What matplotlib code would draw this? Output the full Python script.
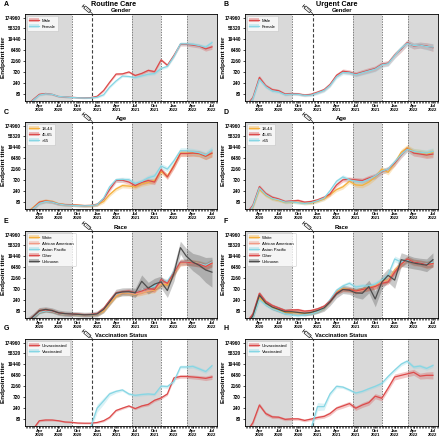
import numpy as np
import pandas as pd
import matplotlib
matplotlib.use('Agg')
import matplotlib.pyplot as plt
import matplotlib.dates as mdates
from matplotlib.patches import Patch, Polygon
from matplotlib.lines import Line2D

plt.rcParams['font.family'] = ['Liberation Sans', 'DejaVu Sans']

# ---------------- data ----------------
months = pd.date_range('2020-02-01', '2022-07-01', freq='MS')       # 30 points
vax_months = pd.date_range('2020-12-01', '2022-07-01', freq='MS')   # 20 points

ytick_values = [80, 240, 720, 2160, 6480, 19440, 58320, 174960]
shade_spans = [('2020-01-15', '2020-09-02'), ('2021-06-18', '2021-11-02'), ('2022-03-05', '2022-08-15')]
boundary_dates = ['2020-09-02', '2021-06-18', '2021-11-02', '2022-03-05']
vaccine_date = '2020-12-09'

# Panel A: routine care, gender
a_male = [25, 45, 78, 85, 78, 63, 60, 58, 56, 55, 56, 64, 115, 260, 600, 610, 740, 520, 640, 870, 760, 2500, 1450, 3900, 12000, 12000, 11000, 10000, 7500, 9200]
a_female = [25, 42, 72, 82, 78, 63, 60, 57, 55, 54, 54, 58, 75, 160, 300, 490, 470, 420, 500, 590, 630, 1050, 1300, 3500, 12500, 12500, 12000, 10500, 9000, 14000]
# Panel B: urgent care, gender
b_male = [25, 56, 430, 186, 125, 113, 80, 85, 82, 73, 78, 97, 125, 210, 530, 800, 730, 600, 730, 880, 1050, 1600, 1800, 4000, 7300, 14000, 10000, 11000, 10000, 8500]
b_female = [22, 50, 350, 170, 110, 100, 75, 80, 78, 70, 72, 90, 115, 190, 450, 700, 680, 560, 680, 820, 980, 1500, 1700, 3800, 8000, 13000, 10500, 11000, 9500, 9000]
# Panel C: routine care, age
c_18_44 = [25, 45, 80, 92, 85, 68, 62, 60, 58, 56, 56, 62, 85, 170, 300, 420, 400, 370, 500, 580, 700, 1700, 1100, 3200, 11000, 11000, 11000, 10000, 8000, 10500]
c_45_65 = [25, 42, 78, 90, 82, 66, 62, 60, 58, 56, 57, 64, 110, 280, 700, 720, 600, 420, 580, 700, 600, 2100, 1000, 3000, 10500, 10500, 11000, 10500, 8000, 11000]
c_65 = [25, 40, 70, 85, 80, 66, 60, 58, 56, 55, 56, 62, 120, 370, 760, 780, 760, 520, 640, 920, 1100, 3000, 2200, 5000, 14000, 14000, 13000, 11500, 9000, 15000]
# Panel D: urgent care, age
d_18_44 = [22, 50, 290, 160, 110, 95, 78, 80, 78, 70, 72, 88, 110, 170, 280, 370, 650, 450, 430, 600, 1000, 2200, 1600, 4000, 12000, 19000, 13000, 12000, 10000, 12000]
d_45_65 = [25, 58, 380, 190, 130, 110, 85, 90, 95, 80, 85, 100, 130, 180, 450, 750, 800, 750, 700, 900, 1100, 1700, 2200, 4000, 9000, 17000, 11000, 10000, 9000, 10000]
d_65 = [22, 52, 330, 170, 115, 100, 80, 82, 75, 70, 75, 92, 120, 250, 650, 1000, 750, 650, 600, 800, 1100, 1800, 2200, 4500, 9500, 16000, 13000, 12000, 11000, 13000]
# Panel E: routine care, race
e_white = [25, 42, 75, 88, 80, 65, 60, 58, 56, 55, 55, 58, 80, 170, 350, 500, 480, 430, 500, 600, 650, 1200, 1100, 3500, 10000, 11000, 10500, 9500, 7500, 10000]
e_african_american = [25, 45, 90, 95, 85, 68, 62, 60, 58, 56, 56, 60, 90, 190, 400, 520, 500, 450, 520, 620, 700, 1300, 1300, 3800, 10000, 10500, 10000, 9000, 7000, 9500]
e_asian_pacific = [25, 40, 70, 82, 78, 64, 60, 58, 56, 55, 55, 60, 100, 220, 450, 560, 560, 500, 620, 780, 1000, 1800, 1600, 4200, 11000, 11500, 10000, 9500, 8000, 11000]
e_other = [25, 45, 80, 90, 82, 66, 62, 60, 58, 56, 57, 63, 105, 230, 500, 560, 600, 500, 600, 780, 700, 1900, 1300, 3800, 11000, 11000, 10000, 9000, 7000, 10000]
e_unknown = [25, 45, 85, 95, 85, 68, 62, 60, 58, 55, 56, 60, 95, 200, 480, 550, 560, 500, 1600, 800, 1200, 1500, 630, 3500, 47000, 20000, 11000, 8000, 5000, 4000]
# Panel F: urgent care, race
f_white = [20, 45, 300, 170, 110, 90, 70, 70, 68, 62, 65, 80, 110, 220, 550, 750, 700, 600, 700, 850, 1000, 1600, 1800, 5000, 9000, 14000, 11000, 10000, 8500, 10000]
f_african_american = [22, 55, 450, 200, 130, 105, 80, 82, 80, 72, 75, 92, 125, 230, 500, 700, 650, 550, 650, 800, 950, 1500, 1700, 4500, 9000, 13000, 10000, 9500, 8000, 9000]
f_asian_pacific = [20, 40, 250, 150, 100, 80, 60, 55, 50, 55, 60, 75, 110, 250, 650, 1000, 1300, 900, 1000, 1000, 1200, 1800, 3000, 15000, 11000, 13000, 11000, 10000, 9000, 11000]
f_other = [25, 60, 480, 210, 140, 110, 85, 90, 92, 80, 85, 100, 130, 220, 500, 700, 700, 600, 700, 800, 950, 1300, 1500, 4000, 9000, 15000, 11000, 10000, 8500, 9500]
f_unknown = [20, 50, 400, 180, 120, 95, 75, 75, 70, 65, 70, 85, 110, 200, 450, 700, 650, 500, 480, 940, 270, 1450, 2900, 1800, 14000, 12000, 10000, 9000, 8000, 14000]
# Panel G: routine care, vaccination status
g_unvaccinated = [22, 28, 68, 73, 73, 68, 60, 58, 54, 53, 53, 57, 68, 95, 190, 240, 300, 230, 300, 350, 530, 670, 1000, 5000, 5800, 5800, 5500, 5200, 4800, 5500]
g_vaccinated = [35, 240, 500, 1000, 1300, 1500, 1000, 870, 950, 1000, 950, 2200, 2100, 3500, 15000, 15000, 16000, 12500, 9500, 17000]
# Panel H: urgent care, vaccination status
h_unvaccinated = [22, 55, 330, 140, 100, 97, 78, 82, 82, 70, 80, 94, 105, 140, 240, 300, 380, 240, 330, 420, 800, 650, 1800, 5500, 6500, 7500, 8800, 6000, 6500, 6500]
h_vaccinated = [30, 280, 280, 1000, 2160, 2000, 1500, 1100, 1300, 1700, 2160, 2900, 5800, 11000, 20000, 27000, 15000, 16500, 13000, 17500]

# confidence band multipliers (upper = y*b, lower = y/b)
band_narrow = [1.3, 1.15, 1.12, 1.12, 1.1, 1.08, 1.08, 1.08, 1.08, 1.08, 1.08, 1.1, 1.12, 1.12, 1.12, 1.12, 1.12, 1.12, 1.12, 1.15, 1.15, 1.15, 1.15, 1.18, 1.2, 1.2, 1.22, 1.22, 1.25, 1.28]
band_wide = [1.4, 1.25, 1.22, 1.2, 1.18, 1.15, 1.15, 1.15, 1.15, 1.15, 1.15, 1.18, 1.2, 1.22, 1.22, 1.25, 1.25, 1.25, 1.28, 1.3, 1.3, 1.3, 1.3, 1.35, 1.35, 1.35, 1.35, 1.35, 1.4, 1.45]
band_unknown_e = [1.6, 1.4, 1.35, 1.3, 1.3, 1.3, 1.3, 1.3, 1.3, 1.3, 1.3, 1.35, 1.4, 1.45, 1.5, 1.5, 1.5, 1.6, 1.9, 1.8, 1.8, 1.8, 2.0, 2.2, 1.9, 2.2, 2.4, 2.8, 3.5, 4.5]
band_unknown_f = [1.6, 1.4, 1.35, 1.3, 1.3, 1.3, 1.3, 1.3, 1.3, 1.3, 1.3, 1.35, 1.4, 1.45, 1.5, 1.5, 1.5, 1.6, 1.8, 1.9, 2.2, 2.0, 2.0, 2.3, 2.0, 1.9, 1.8, 1.8, 1.9, 2.0]
band_vax = [1.6, 1.5, 1.4, 1.25, 1.18, 1.15, 1.15, 1.15, 1.15, 1.15, 1.15, 1.18, 1.2, 1.2, 1.2, 1.2, 1.2, 1.2, 1.2, 1.22]

RED = '#dc4a4a'
CYAN = '#86d6e4'
ORANGE = '#f5b03c'
SALMON = '#f09a86'
DARK = '#4d4d4d'

panels = {
    'A': [('Male', a_male, RED, band_narrow, months), ('Female', a_female, CYAN, band_narrow, months)],
    'B': [('Male', b_male, RED, band_wide, months), ('Female', b_female, CYAN, band_wide, months)],
    'C': [('18-44', c_18_44, ORANGE, band_wide, months), ('45-65', c_45_65, RED, band_wide, months), ('>65', c_65, CYAN, band_wide, months)],
    'D': [('18-44', d_18_44, ORANGE, band_wide, months), ('45-65', d_45_65, RED, band_wide, months), ('>65', d_65, CYAN, band_wide, months)],
    'E': [('White', e_white, ORANGE, band_wide, months), ('African American', e_african_american, SALMON, band_wide, months),
          ('Asian Pacific', e_asian_pacific, CYAN, band_wide, months), ('Other', e_other, RED, band_wide, months),
          ('Unknown', e_unknown, DARK, band_unknown_e, months)],
    'F': [('White', f_white, ORANGE, band_wide, months), ('African American', f_african_american, SALMON, band_wide, months),
          ('Asian Pacific', f_asian_pacific, CYAN, band_wide, months), ('Other', f_other, RED, band_wide, months),
          ('Unknown', f_unknown, DARK, band_unknown_f, months)],
    'G': [('Unvaccinated', g_unvaccinated, RED, band_narrow, months), ('Vaccinated', g_vaccinated, CYAN, band_vax, vax_months)],
    'H': [('Unvaccinated', h_unvaccinated, RED, band_wide, months), ('Vaccinated', h_vaccinated, CYAN, band_vax, vax_months)],
}
subtitles = {'A': 'Gender', 'B': 'Gender', 'C': 'Age', 'D': 'Age', 'E': 'Race', 'F': 'Race',
             'G': 'Vaccination Status', 'H': 'Vaccination Status'}
column_titles = ['Routine Care', 'Urgent Care']

# ---------------- layout (pixels) ----------------
W = H = 440
fig = plt.figure(figsize=(4.4, 4.4), dpi=100)
col_left = [25, 245]
col_right = [217, 438]
row_top = [14, 122, 231, 339]
ax_h = 87

def fx(px):
    return px / W

def fy(py):
    return 1 - py / H

overlay = fig.add_axes([0, 0, 1, 1], zorder=10)
overlay.set_xlim(0, W)
overlay.set_ylim(H, 0)
overlay.axis('off')

def syringe(px, py):
    ang = np.deg2rad(40)
    u = np.array([-np.cos(ang), -np.sin(ang)])
    n = np.array([-u[1], u[0]])
    tip = np.array([px, py])
    b0 = tip + 3.0 * u
    b1 = tip + 10.0 * u
    w = 1.5
    poly = [b0 + w * n, b1 + w * n, b1 - w * n, b0 - w * n]
    overlay.add_patch(Polygon(poly, closed=True, fc='white', ec='#222222', lw=0.5))
    overlay.plot([tip[0], b0[0]], [tip[1], b0[1]], color='#222222', lw=0.5)
    p1 = b1 + 2.0 * u
    overlay.plot([b1[0], p1[0]], [b1[1], p1[1]], color='#222222', lw=0.5)
    overlay.plot([p1[0] + 1.6 * n[0], p1[0] - 1.6 * n[0]], [p1[1] + 1.6 * n[1], p1[1] - 1.6 * n[1]], color='#222222', lw=0.5)
    for t in [4.5, 6.0, 7.5]:
        q = tip + t * u
        overlay.plot([q[0], q[0] + w * n[0]], [q[1], q[1] + w * n[1]], color='#222222', lw=0.3)

letters = ['A', 'B', 'C', 'D', 'E', 'F', 'G', 'H']
for i, key in enumerate(letters):
    r, c = divmod(i, 2)
    left, right = col_left[c], col_right[c]
    top = row_top[r]
    ax = fig.add_axes([fx(left), fy(top + ax_h), fx(right - left), ax_h / H])
    ax.set_yscale('log')
    xmin, xmax = pd.Timestamp('2020-01-24'), pd.Timestamp('2022-07-25')
    for s, e in shade_spans:
        ax.axvspan(pd.Timestamp(s), pd.Timestamp(e), color='#d9d9d9', lw=0, zorder=0)
    for d in boundary_dates:
        ax.axvline(pd.Timestamp(d), color='#808080', ls=(0, (1.5, 1.2)), lw=0.7, zorder=1)
    ax.axvline(pd.Timestamp(vaccine_date), color='#404040', ls=(0, (3, 1.8)), lw=0.8, zorder=1)

    handles = []
    for label, vals, color, band, xs in panels[key]:
        y = np.asarray(vals, float)
        b = np.asarray(band, float)
        ax.fill_between(xs, y / b, y * b, color=color, alpha=0.3, lw=0, zorder=2)
        ax.plot(xs, y, color=color, lw=0.9, zorder=3)
        handles.append((Patch(facecolor=color, alpha=0.35, lw=0), Line2D([], [], color=color, lw=0.9)))
    ax.set_xlim(xmin, xmax)
    ax.set_ylim(40, 250000)
    ax.set_yticks(ytick_values)
    ax.set_yticklabels([str(v) for v in ytick_values])
    ax.yaxis.set_minor_locator(matplotlib.ticker.NullLocator())
    ax.xaxis.set_major_locator(mdates.MonthLocator(bymonth=[1, 4, 7, 10]))
    ax.xaxis.set_major_formatter(mdates.DateFormatter('%b\n%Y'))
    ax.xaxis.set_minor_locator(mdates.WeekdayLocator(byweekday=mdates.MO))
    ax.tick_params(axis='y', which='major', labelsize=3.4, length=1.8, width=0.5, pad=1)
    ax.tick_params(axis='x', which='major', labelsize=3.1, length=1.5, width=0.5, pad=0.6)
    ax.tick_params(axis='x', which='minor', length=1.2, width=0.4)
    for lab in ax.get_xticklabels() + ax.get_yticklabels():
        lab.set_fontweight('bold')
    for lab in ax.get_xticklabels():
        lab.set_linespacing(0.95)
    ax.set_ylabel('Endpoint titer', fontsize=4.6, fontweight='bold')
    ax.yaxis.set_label_coords(-0.1, 0.5)
    for sp in ax.spines.values():
        sp.set_linewidth(0.6)
    leg = ax.legend(handles, [p[0] for p in panels[key]], loc='upper left', fontsize=3.1,
                    frameon=True, facecolor='white', framealpha=0.75, edgecolor='#bbbbbb',
                    handlelength=2.3, handleheight=0.9, borderpad=0.6, labelspacing=0.4,
                    borderaxespad=0.4, handletextpad=0.6)
    leg.get_frame().set_linewidth(0.4)

    # subtitle and panel letter
    cx = (left + right) / 2
    fig.text(fx(cx), fy(top - 3.5), subtitles[key], ha='center', va='center', fontsize=4.2, fontweight='bold')
    fig.text(fx(left - 21), fy(top - 10), key, ha='left', va='center', fontsize=5, fontweight='bold')

    # syringe at vaccine date
    disp = ax.transData.transform((mdates.date2num(pd.Timestamp(vaccine_date)), 250000))
    syringe(disp[0], H - disp[1] - 0.5)

fig.text(fx(114), fy(4.5), column_titles[0], ha='center', va='center', fontsize=5.2, fontweight='bold')
fig.text(fx(337), fy(4.5), column_titles[1], ha='center', va='center', fontsize=5.2, fontweight='bold')

fig.savefig('out.png', dpi=100)
